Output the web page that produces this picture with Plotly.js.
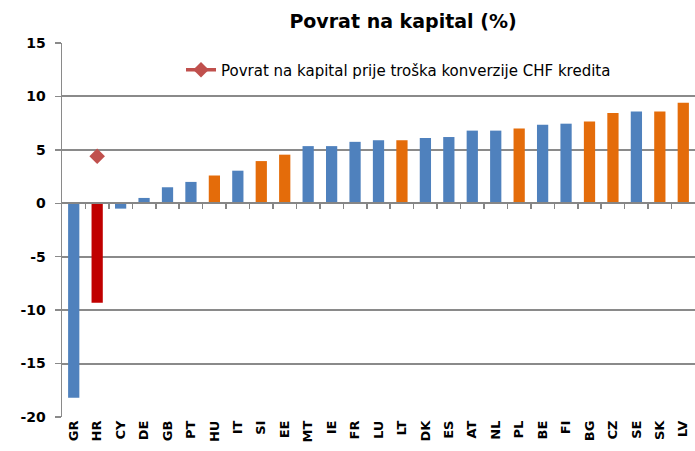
<!DOCTYPE html>
<html><head><meta charset="utf-8">
<script src="https://cdn.plot.ly/plotly-3.0.1.min.js"></script>
<style>body{margin:0;padding:0;background:#fff}#chart{width:695px;height:451px}</style>
</head><body><div id="chart"></div>
<script>
const countries = ["GR","HR","CY","DE","GB","PT","HU","IT","SI","EE","MT","IE","FR","LU","LT","DK","ES","AT","NL","PL","BE","FI","BG","CZ","SE","SK","LV"];
const roe = [-18.2,-9.3,-0.5,0.5,1.5,2.0,2.6,3.05,3.95,4.55,5.35,5.35,5.75,5.9,5.9,6.1,6.2,6.8,6.8,7.0,7.35,7.45,7.65,8.45,8.6,8.6,9.4];
const groups = ["b","r","b","b","b","b","o","b","o","o","b","b","b","b","o","b","b","b","b","o","b","b","o","o","b","o","o"];
const roeBeforeChfCountry = ["HR"];
const roeBeforeChf = [4.4];
const legendLabel = "Povrat na kapital prije troška konverzije CHF kredita";
const yTicks = [-20,-15,-10,-5,0,5,10,15];
const palette = {b:"#4F81BD", o:"#E46C0A", r:"#C00000"};

const idx = countries.map((c,i)=>i);
const yMin = -20, yMax = 15;
const boundaries = idx.slice(0,-1).map(i=>i+0.5);
const F = "'DejaVu Sans', sans-serif";

const traces = [
  {type:"bar", x:idx, y:roe, marker:{color:groups.map(g=>palette[g])}, showlegend:false, hoverinfo:"x+y"},
  {type:"scatter", mode:"lines+markers", x:roeBeforeChfCountry.map(c=>countries.indexOf(c)), y:roeBeforeChf,
   name:legendLabel, line:{color:"#C0504D", width:3.5}, marker:{symbol:"diamond", size:12, color:"#C0504D"}},
  {type:"scatter", mode:"none", x:idx, y:roe, xaxis:"x2", showlegend:false, hoverinfo:"skip"}
];

const layout = {
  width:695, height:451,
  margin:{l:62, r:0, t:43, b:34},
  paper_bgcolor:"#fff", plot_bgcolor:"#fff",
  bargap:0.52,
  font:{family:F, color:"#000"},
  title:{text:"<b>Povrat na kapital (%)</b>", font:{size:19, family:F, color:"#000"}, x:403/695, xanchor:"center", y:0.952, yanchor:"middle"},
  xaxis:{range:[-0.5,26.5], tickvals:idx, ticktext:countries.map(c=>"<b>"+c+"</b>"), tickangle:-90,
         tickfont:{size:13, family:F}, showgrid:false, zeroline:false, showline:false, ticks:"", fixedrange:true},
  xaxis2:{overlaying:"x", anchor:"free", position:(0-yMin)/(yMax-yMin), range:[-0.5,26.5], tickvals:boundaries,
          ticks:"outside", ticklen:5, tickcolor:"#868686", tickwidth:1.5, showticklabels:false, showgrid:false, zeroline:false,
          showline:true, linecolor:"#868686", linewidth:2},
  yaxis:{range:[yMin,yMax], tickvals:yTicks, ticktext:yTicks.map(v=>"<b>"+v+"</b>"),
         tickfont:{size:14, family:F}, showgrid:true, gridcolor:"#8a8a8a", gridwidth:2, ticklabelstandoff:6,
         zeroline:false, showline:true, linecolor:"#8a8a8a", linewidth:1.5, ticks:"outside", ticklen:6, tickcolor:"#8a8a8a", tickwidth:1.5},
  legend:{x:0.188, y:0.928, xanchor:"left", yanchor:"middle", bgcolor:"rgba(255,255,255,0)", font:{size:15, family:F}, itemwidth:30},
  showlegend:true
};
Plotly.newPlot("chart", traces, layout, {displayModeBar:false, staticPlot:true});
</script></body></html>
